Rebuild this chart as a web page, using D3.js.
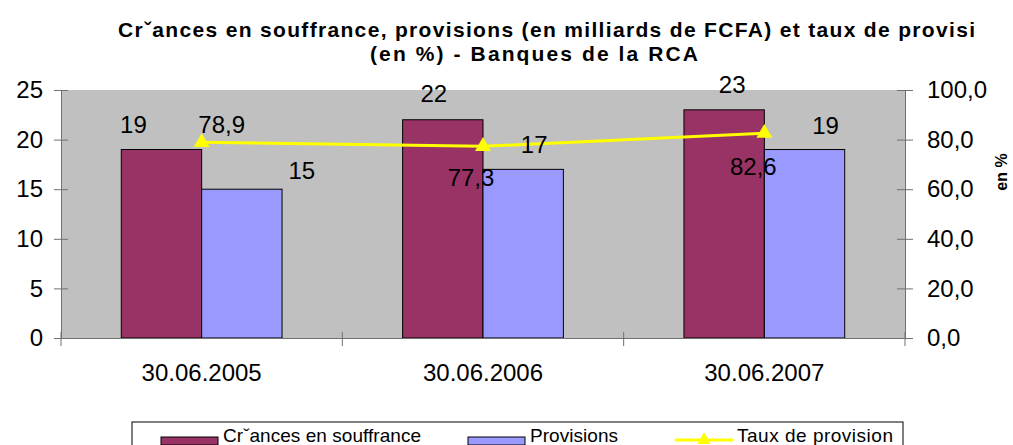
<!DOCTYPE html>
<html lang="fr">
<head>
<meta charset="UTF-8">
<title>Créances en souffrance - RCA</title>
<script src="https://cdn.jsdelivr.net/npm/d3@7"></script>
<style>
  body { margin: 0; background: #fff; }
  svg { display: block; font-family: "Liberation Sans", Arial, sans-serif; }
</style>
</head>
<body>
<script>
// data
var categories = ["30.06.2005", "30.06.2006", "30.06.2007"];
var creances = [19, 22, 23];
var provisions = [15, 17, 19];
var taux = [78.9, 77.3, 82.6];
var leftTicks = [0, 5, 10, 15, 20, 25];
var rightTicks = [0, 20, 40, 60, 80, 100];

// label nudges (Excel places them a bit oddly), [dx, dy] from the mark
var creancesNudge = [[-28, -17], [-9, -18], [8, -17]];
var provisionsNudge = [[60, -10], [11, -16], [21, -16]];
var tauxNudge = [[20, -9], [-12, 40], [-11, 42]];

var w = 1013, h = 445;
// plot area edges (note: "top" is reserved on window, so prefixed names)
var plotL = 61, plotR = 905, plotT = 90, plotB = 338;

var svg = d3.select("body").append("svg")
    .attr("width", w)
    .attr("height", h);

var x = d3.scaleBand().domain(categories).range([plotL, plotR]);
var xInner = d3.scaleBand().domain(["c", "p"]).range([0, x.bandwidth()])
    .paddingInner(0).paddingOuter(0.75);
var y = d3.scaleLinear().domain([0, 25]).range([plotB, plotT]);
var y2 = d3.scaleLinear().domain([0, 100]).range([plotB, plotT]);

var fmt = function(d) { return d.toFixed(1).replace(".", ","); };

// plot area
svg.append("rect")
    .attr("x", plotL).attr("y", plotT)
    .attr("width", plotR - plotL).attr("height", plotB - plotT)
    .attr("fill", "#c0c0c0");

// title
svg.append("text")
    .attr("x", 118).attr("y", 37)
    .attr("textLength", 857).attr("lengthAdjust", "spacing")
    .style("font-size", "21px").style("font-weight", "bold")
    .text("Crˇances en souffrance, provisions (en milliards de FCFA) et taux de provisi");
svg.append("text")
    .attr("x", 370).attr("y", 61)
    .attr("textLength", 328).attr("lengthAdjust", "spacing")
    .style("font-size", "21px").style("font-weight", "bold")
    .text("(en %) - Banques de la RCA");

// bars
var groups = svg.selectAll("g.cat")
    .data(categories)
    .enter().append("g")
    .attr("class", "cat")
    .attr("transform", function(d) { return "translate(" + x(d) + ",0)"; });

groups.append("rect")
    .attr("x", xInner("c"))
    .attr("y", function(d, i) { return y(creances[i]); })
    .attr("width", xInner.bandwidth())
    .attr("height", function(d, i) { return y(0) - y(creances[i]); })
    .attr("fill", "#993366").attr("stroke", "#000").attr("stroke-width", 1);

groups.append("rect")
    .attr("x", xInner("p"))
    .attr("y", function(d, i) { return y(provisions[i]); })
    .attr("width", xInner.bandwidth())
    .attr("height", function(d, i) { return y(0) - y(provisions[i]); })
    .attr("fill", "#9999ff").attr("stroke", "#000").attr("stroke-width", 1);

// axes
var axisColor = "#707070";

var gLeft = svg.append("g")
    .attr("transform", "translate(" + plotL + ",0)")
    .call(d3.axisLeft(y).tickValues(leftTicks).tickSizeInner(7).tickSizeOuter(0).tickPadding(11));
gLeft.selectAll(".tick line").attr("x1", 7);

var gRight = svg.append("g")
    .attr("transform", "translate(" + plotR + ",0)")
    .call(d3.axisRight(y2).tickValues(rightTicks).tickFormat(fmt).tickSizeInner(8).tickSizeOuter(0).tickPadding(14));
gRight.selectAll(".tick line").attr("x1", -8);

var gBottom = svg.append("g")
    .attr("transform", "translate(0," + plotB + ")")
    .call(d3.axisBottom(x).tickSize(0).tickSizeOuter(0));
gBottom.selectAll("text").attr("y", 43).attr("dy", 0);

// category boundary ticks, crossing the axis
var bounds = categories.map(function(c) { return x(c); }).concat([x.range()[1]]);
gBottom.selectAll("line.bound")
    .data(bounds)
    .enter().append("line")
    .attr("class", "bound")
    .attr("x1", function(d) { return d; }).attr("x2", function(d) { return d; })
    .attr("y1", -6).attr("y2", 8)
    .attr("stroke", axisColor);

[gLeft, gRight, gBottom].forEach(function(g) {
    g.selectAll("path.domain").attr("stroke", axisColor);
    g.selectAll(".tick line").attr("stroke", axisColor);
    g.selectAll("text")
        .attr("fill", "#000")
        .style("font-size", "24px")
        .style("font-family", "'Liberation Sans', Arial, sans-serif");
});

// right axis title
svg.append("text")
    .attr("transform", "translate(1003,172) rotate(-90)")
    .attr("text-anchor", "middle")
    .attr("dominant-baseline", "middle")
    .style("font-size", "16px").style("font-weight", "bold")
    .text("en %");

// line
var cx = function(i) { return x(categories[i]) + x.bandwidth() / 2; };
var line = d3.line()
    .x(function(d, i) { return cx(i); })
    .y(function(d) { return y2(d); });

svg.append("path")
    .datum(taux)
    .attr("d", line)
    .attr("fill", "none")
    .attr("stroke", "#ffff00")
    .attr("stroke-width", 3);

var tri = d3.symbol().type(d3.symbolTriangle).size(110);
svg.selectAll("path.marker")
    .data(taux)
    .enter().append("path")
    .attr("class", "marker")
    .attr("d", tri)
    .attr("transform", function(d, i) { return "translate(" + cx(i) + "," + y2(d) + ")"; })
    .attr("fill", "#ffff00");

// value labels
var labelStyle = function(sel) {
    sel.attr("text-anchor", "middle").style("font-size", "24px").attr("fill", "#000");
};

svg.selectAll("text.lc")
    .data(creances)
    .enter().append("text")
    .attr("class", "lc")
    .attr("x", function(d, i) { return x(categories[i]) + xInner("c") + xInner.bandwidth() / 2 + creancesNudge[i][0]; })
    .attr("y", function(d, i) { return y(d) + creancesNudge[i][1]; })
    .call(labelStyle)
    .text(function(d) { return d; });

svg.selectAll("text.lp")
    .data(provisions)
    .enter().append("text")
    .attr("class", "lp")
    .attr("x", function(d, i) { return x(categories[i]) + xInner("p") + xInner.bandwidth() / 2 + provisionsNudge[i][0]; })
    .attr("y", function(d, i) { return y(d) + provisionsNudge[i][1]; })
    .call(labelStyle)
    .text(function(d) { return d; });

svg.selectAll("text.lt")
    .data(taux)
    .enter().append("text")
    .attr("class", "lt")
    .attr("x", function(d, i) { return cx(i) + tauxNudge[i][0]; })
    .attr("y", function(d, i) { return y2(d) + tauxNudge[i][1]; })
    .call(labelStyle)
    .text(fmt);

// legend
var lg = svg.append("g");
lg.append("rect")
    .attr("x", 132).attr("y", 422)
    .attr("width", 771).attr("height", 40)
    .attr("fill", "#fff").attr("stroke", "#000");

var legendItems = [
    { name: "Crˇances en souffrance", color: "#993366", x: 161, len: 198 },
    { name: "Provisions", color: "#9999ff", x: 468, len: 88 },
    { name: "Taux de provision", color: "#ffff00", x: 675, len: 156, line: true }
];

legendItems.forEach(function(d) {
    if (d.line) {
        lg.append("line")
            .attr("x1", d.x).attr("x2", d.x + 58)
            .attr("y1", 440).attr("y2", 440)
            .attr("stroke", d.color).attr("stroke-width", 3);
        lg.append("path")
            .attr("d", d3.symbol().type(d3.symbolTriangle).size(80))
            .attr("transform", "translate(" + (d.x + 29) + ",440)")
            .attr("fill", d.color);
    } else {
        lg.append("rect")
            .attr("x", d.x).attr("y", 437)
            .attr("width", 57).attr("height", 8)
            .attr("fill", d.color).attr("stroke", "#000");
    }
    lg.append("text")
        .attr("x", d.x + 62)
        .attr("y", 442)
        .attr("textLength", d.len).attr("lengthAdjust", "spacing")
        .style("font-size", "19px")
        .text(d.name);
});
</script>
</body>
</html>
